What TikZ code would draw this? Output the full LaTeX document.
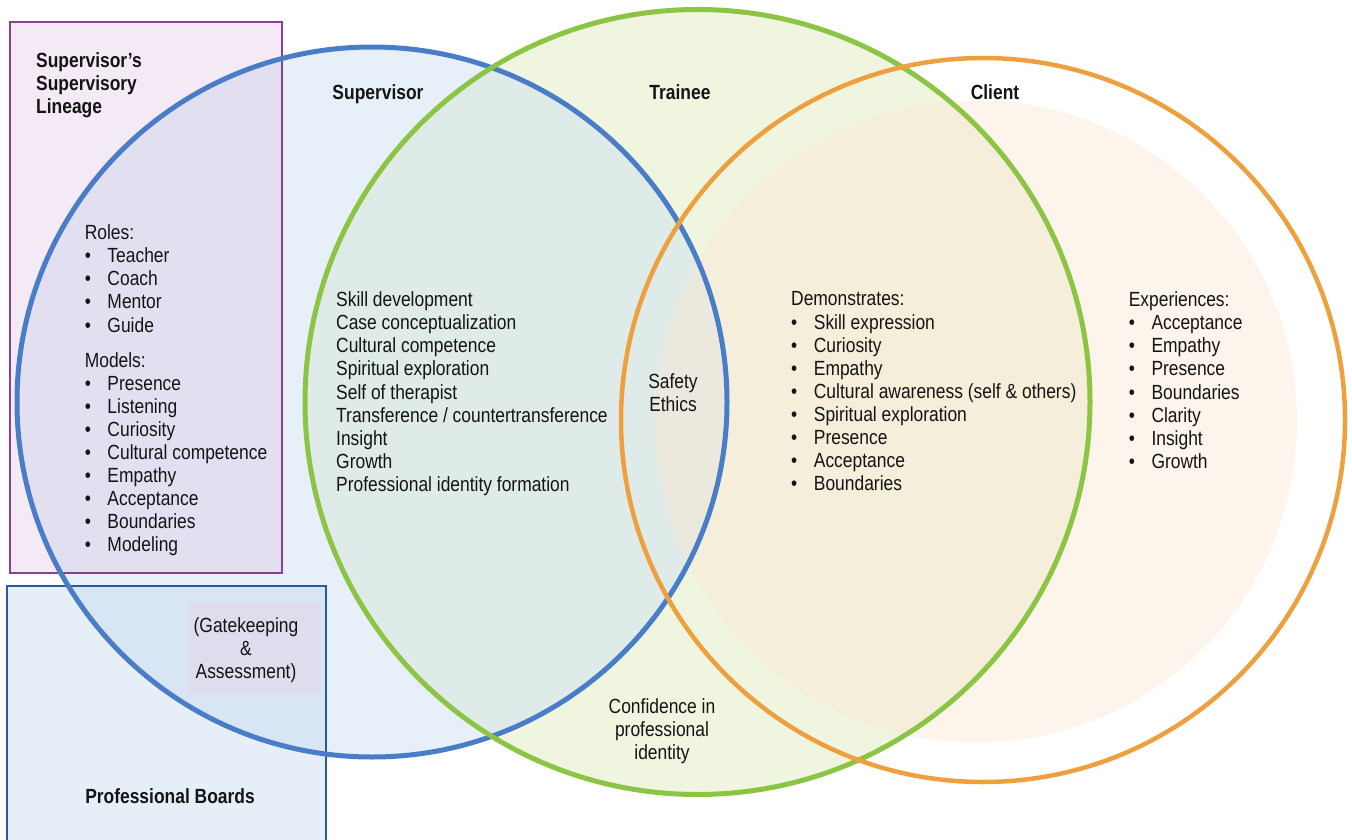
\documentclass[tikz,border=0pt]{standalone}
\usepackage{fontspec}
\setmainfont{Liberation Sans}[FakeStretch=0.85]
\usepackage{xcolor}
\usepackage{tikz}
\usetikzlibrary{positioning}
\definecolor{supblue}{HTML}{4A7DC8}
\definecolor{trgreen}{HTML}{8CC443}
\definecolor{clorange}{HTML}{EE9F3E}
\definecolor{linpurple}{HTML}{8B3F96}
\definecolor{brdblue}{HTML}{2C5B9B}
\definecolor{supfill}{HTML}{CFE2F3}
\definecolor{trfill}{HTML}{E6EFCC}
\definecolor{clfill}{HTML}{FAE6D2}
\definecolor{linfill}{HTML}{D9B8DE}
\definecolor{brdfill}{HTML}{B8D0EC}
\definecolor{gatefill}{HTML}{DFDCEE}
\newcommand{\bitem}[1]{\makebox[22.7pt][l]{\textbullet}#1}

\begin{document}
\begin{tikzpicture}[
    x=1pt, y=-1pt,
    ring/.style={line width=5pt},
    txt/.style={font=\fontsize{20.5}{23.1}\selectfont, inner sep=0pt, text=black!92},
    head/.style={txt, font=\fontsize{20.5}{23.1}\selectfont\bfseries},
    listtxt/.style={txt, align=left, anchor=north west},
    midtxt/.style={txt, align=center, anchor=north},
]
\useasboundingbox (0,0) rectangle (1352,840);

% Circle centres
\coordinate (supc) at (372,402);
\coordinate (trac) at (697.5,402);
\coordinate (clic) at (983,420);
\coordinate (clin) at (976,421.5);

% Circle fills
\fill[trfill, fill opacity=0.6] (trac) circle[radius=392.5pt];
\fill[supfill, fill opacity=0.5] (supc) circle[radius=355pt];
\fill[clfill, fill opacity=0.45] (clin) circle[radius=321pt];

% Side boxes
\draw[linpurple, line width=2pt, fill=linfill, fill opacity=0.3] (10,22) rectangle (282,573);
\draw[brdblue, line width=2pt, fill=brdfill, fill opacity=0.35] (7,586) rectangle (326,850);
\fill[gatefill] (188,602) rectangle (322,694);

% Circle outlines
\draw[ring, supblue] (supc) circle[radius=355pt];
\draw[ring, trgreen] (trac) circle[radius=392.5pt];
\draw[ring, clorange, line width=4.5pt] (clic) circle[radius=362pt];

% Headings
\node[head, align=left, anchor=north west] (lineage) at (36,52.6) {Supervisor’s\\Supervisory\\Lineage};
\node[head, anchor=base] (supervisor) at (378,99.3) {Supervisor};
\node[head, anchor=base] (trainee) at (680,99.3) {Trainee};
\node[head, anchor=base] (client) at (995,99.3) {Client};
\node[head, anchor=base] (boards) at (170,803) {Professional Boards};

% Supervisor's lineage list
\node[listtxt] (roles) at (84.6,224.6) {Roles:\\
    \bitem{Teacher}\\ \bitem{Coach}\\ \bitem{Mentor}\\ \bitem{Guide}\\[11.9pt]
    Models:\\
    \bitem{Presence}\\ \bitem{Listening}\\ \bitem{Curiosity}\\ \bitem{Cultural competence}\\
    \bitem{Empathy}\\ \bitem{Acceptance}\\ \bitem{Boundaries}\\ \bitem{Modeling}};

% Supervisor and trainee overlap
\node[listtxt] (supskills) at (336,291.6) {Skill development\\ Case conceptualization\\
    Cultural competence\\ Spiritual exploration\\ Self of therapist\\
    Transference / countertransference\\ Insight\\ Growth\\ Professional identity formation};

% Centre
\node[midtxt] (safety) at (673,373.6) {Safety\\Ethics};

% Trainee demonstrates
\node[listtxt] (demo) at (791,291.6) {Demonstrates:\\
    \bitem{Skill expression}\\ \bitem{Curiosity}\\ \bitem{Empathy}\\
    \bitem{Cultural awareness (self \& others)}\\ \bitem{Spiritual exploration}\\
    \bitem{Presence}\\ \bitem{Acceptance}\\ \bitem{Boundaries}};

% Client experiences
\node[listtxt] (exper) at (1128.6,291.6) {Experiences:\\
    \bitem{Acceptance}\\ \bitem{Empathy}\\ \bitem{Presence}\\ \bitem{Boundaries}\\
    \bitem{Clarity}\\ \bitem{Insight}\\ \bitem{Growth}};

% Lower labels
\node[midtxt] (confidence) at (662,698.6) {Confidence in\\professional\\identity};
\node[midtxt] (gate) at (246,617.5) {(Gatekeeping\\\&\\Assessment)};

\end{tikzpicture}
\end{document}
